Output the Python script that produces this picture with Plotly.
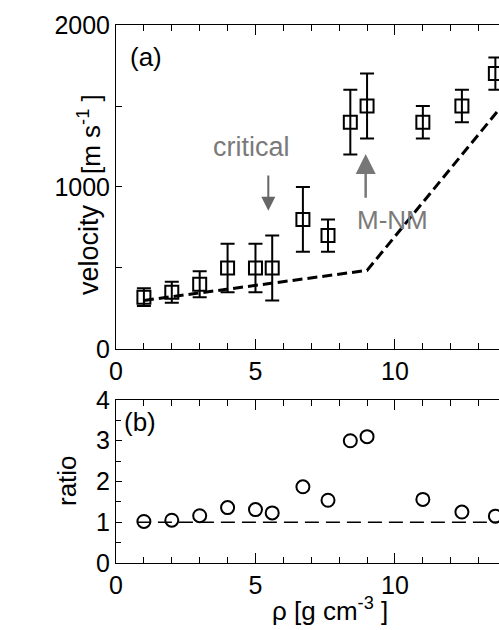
import plotly.graph_objects as go

# ---- data ----
rho = [1, 2, 3, 4, 5, 5.6, 6.7, 7.6, 8.4, 9.0, 11.0, 12.4, 13.6]
velocity = [320, 350, 400, 500, 500, 500, 800, 700, 1400, 1500, 1400, 1500, 1700]
velocity_err = [55, 65, 80, 150, 150, 200, 200, 100, 200, 200, 100, 100, 100]
ratio = [1.02, 1.05, 1.16, 1.36, 1.31, 1.23, 1.87, 1.54, 3.0, 3.1, 1.56, 1.25, 1.15]
model_rho = [1, 9, 14]
model_velocity = [300, 485, 1535]
ref_rho = [0.75, 14]
ref_ratio = [1, 1]

FONT = "Liberation Sans, Arial, sans-serif"
GREY = "#7a7a7a"
W, H, L, T, B = 499, 630, 116, 25, 67
pw, ph = W - L, H - T - B


def px2paper(px, py):
    return (px - L) / pw, (H - B - py) / ph


fig = go.Figure()

fig.add_trace(go.Scatter(
    x=model_rho, y=model_velocity, mode="lines",
    line=dict(color="black", width=3, dash="10px,5px"),
    xaxis="x", yaxis="y", showlegend=False))

fig.add_trace(go.Scatter(
    x=rho, y=velocity, mode="markers",
    marker=dict(symbol="square-open", size=13, color="black",
                line=dict(width=2, color="black")),
    error_y=dict(type="data", array=velocity_err, visible=True,
                 color="black", thickness=2, width=7),
    xaxis="x", yaxis="y", showlegend=False))

fig.add_trace(go.Scatter(
    x=ref_rho, y=ref_ratio, mode="lines",
    line=dict(color="black", width=1.5, dash="14px,7px"),
    xaxis="x2", yaxis="y2", showlegend=False))

fig.add_trace(go.Scatter(
    x=rho, y=ratio, mode="markers",
    marker=dict(symbol="circle-open", size=13, color="black",
                line=dict(width=2, color="black")),
    xaxis="x2", yaxis="y2", showlegend=False))

TICKFONT = dict(family=FONT, size=25, color="black")

xcommon = dict(range=[0, 13.73], tickmode="linear", tick0=0, dtick=5,
               ticks="inside", ticklen=10, tickwidth=1, tickcolor="black",
               minor=dict(dtick=1, ticks="inside", ticklen=6, tickwidth=1,
                          tickcolor="black"),
               showline=True, linecolor="black", linewidth=1,
               mirror="allticks", showgrid=False, zeroline=False,
               tickfont=TICKFONT)

fig.update_layout(
    width=W, height=H,
    margin=dict(l=L, r=0, t=T, b=B),
    paper_bgcolor="white", plot_bgcolor="white",
    font=dict(family=FONT, color="black"),
    xaxis=dict(anchor="y", domain=[0, 1], **xcommon),
    xaxis2=dict(anchor="y2", domain=[0, 1], **xcommon),
    yaxis=dict(anchor="x", domain=[0.3978, 1], range=[0, 2000],
               tickmode="linear", tick0=0, dtick=1000,
               ticks="inside", ticklen=6, tickwidth=1, tickcolor="black",
               minor=dict(dtick=500, ticks="inside", ticklen=6, tickwidth=1,
                          tickcolor="black"),
               showline=True, linecolor="black", linewidth=1,
               showgrid=False, zeroline=False, tickfont=TICKFONT),
    yaxis2=dict(anchor="x2", domain=[0, 0.303], range=[0, 4],
                tickmode="linear", tick0=0, dtick=1,
                ticks="inside", ticklen=6, tickwidth=1, tickcolor="black",
                minor=dict(dtick=0.5, ticks="inside", ticklen=5, tickwidth=1,
                           tickcolor="black"),
                showline=True, linecolor="black", linewidth=1,
                showgrid=False, zeroline=False, tickfont=TICKFONT),
)


def add_text(text, px, py, size, angle=0, color="black"):
    x, y = px2paper(px, py)
    fig.add_annotation(text=text, x=x, y=y, xref="paper", yref="paper",
                       textangle=angle, showarrow=False,
                       font=dict(family=FONT, size=size, color=color),
                       xanchor="center", yanchor="middle")


# panel labels
add_text("(a)", 146, 57, 26)
add_text("(b)", 140, 422, 26)

# axis titles
add_text("velocity", 89, 250, 27, angle=-90)
add_text("[m s<sup>-1</sup> ]", 89, 134, 26, angle=-90)
add_text("ratio", 67, 481, 26, angle=-90)
add_text("ρ [g cm<sup>-3</sup> ]", 330, 609, 26)

# grey labels and arrows
fig.add_annotation(text="critical", x=4.86, y=1249, xref="x", yref="y",
                   showarrow=False, font=dict(family=FONT, size=27, color=GREY))
fig.add_annotation(text="M-NM", x=9.91, y=796, xref="x", yref="y",
                   showarrow=False, font=dict(family=FONT, size=26, color=GREY))
fig.add_annotation(text="", x=5.46, y=854, ax=5.46, ay=1080,
                   xref="x", yref="y", axref="x", ayref="y",
                   showarrow=True, arrowhead=2, arrowsize=1.4, arrowwidth=2,
                   arrowcolor="#666666")
fig.add_annotation(text="", x=8.95, y=1204, ax=8.95, ay=924,
                   xref="x", yref="y", axref="x", ayref="y",
                   showarrow=True, arrowhead=2, arrowsize=1.6, arrowwidth=2.5,
                   arrowcolor="#777777")

fig.write_html(
    "out.html",
    config={"displayModeBar": False},
    post_script="document.body.style.margin='0';"
                "document.body.style.overflow='hidden';")
